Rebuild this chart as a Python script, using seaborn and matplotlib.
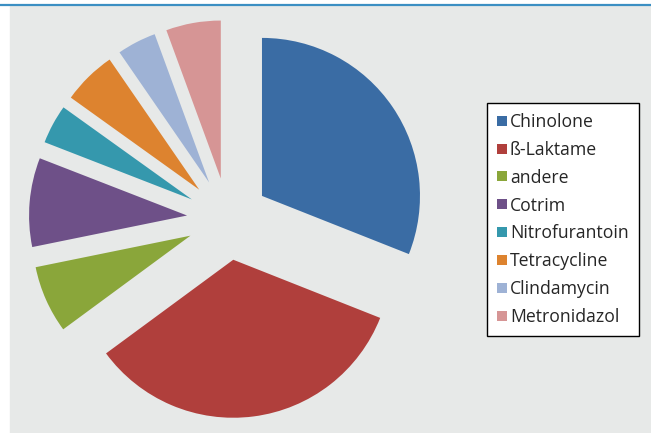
import matplotlib
matplotlib.use("Agg")
import matplotlib.pyplot as plt
from matplotlib.lines import Line2D
from matplotlib.patches import Rectangle
import seaborn as sns

# -----------------------------
# Data (share in %)
# -----------------------------
labels = ["Chinolone", "ß-Laktame", "andere", "Cotrim", "Nitrofurantoin",
          "Tetracycline", "Clindamycin", "Metronidazol"]
values = [31.0, 33.9, 6.9, 9.1, 4.0, 5.5, 4.0, 5.6]
colors = ["#3a6ca4", "#b03f3c", "#8aa63a", "#6e5088", "#3598ad",
          "#dd832f", "#9eb2d5", "#d69595"]

sns.set_style("white")
plt.rcParams["font.family"] = ["Open Sans", "DejaVu Sans"]

W, H = 651, 433
fig = plt.figure(figsize=(W / 100, H / 100), dpi=100)
fig.patch.set_facecolor("white")

# gray panel and blue top rule
fig.add_artist(Rectangle((10 / W, 0), 1 - 10 / W, (H - 6) / H,
                         transform=fig.transFigure, color="#e7e9e8", zorder=0))
fig.add_artist(Line2D([0, 1], [1 - 4.8 / H, 1 - 4.8 / H], transform=fig.transFigure,
                      color="#3b8fc3", lw=1.6, zorder=1))

# -----------------------------
# Exploded pie
# -----------------------------
L = 1.3
R = 158
side = 2 * L * R
cx, cy = 228, H - 219
ax = fig.add_axes([(cx - side / 2) / W, (cy - side / 2) / H, side / W, side / H])
ax.set_facecolor("none")
ax.pie(values, colors=colors, startangle=90, counterclock=False,
       explode=[0.26] * len(values), radius=1,
       wedgeprops=dict(linewidth=0))
ax.set_xlim(-L, L)
ax.set_ylim(-L, L)
ax.set_aspect("equal")
ax.axis("off")

# -----------------------------
# Legend
# -----------------------------
handles = [Line2D([], [], marker="s", linestyle="none", markersize=7.2,
                  markerfacecolor=c, markeredgewidth=0) for c in colors]
leg = fig.legend(handles, labels, loc="upper left",
                 bbox_to_anchor=(487 / W, 1 - 103 / H),
                 fontsize=12.7, frameon=True, fancybox=False,
                 handlelength=0.62, handletextpad=0.12, labelspacing=0.56,
                 borderpad=0.56, borderaxespad=0)
leg.get_frame().set_edgecolor("black")
leg.get_frame().set_linewidth(1.0)
leg.get_frame().set_facecolor("white")
leg.get_frame().set_alpha(1)

fig.savefig("out.png", dpi=100)
